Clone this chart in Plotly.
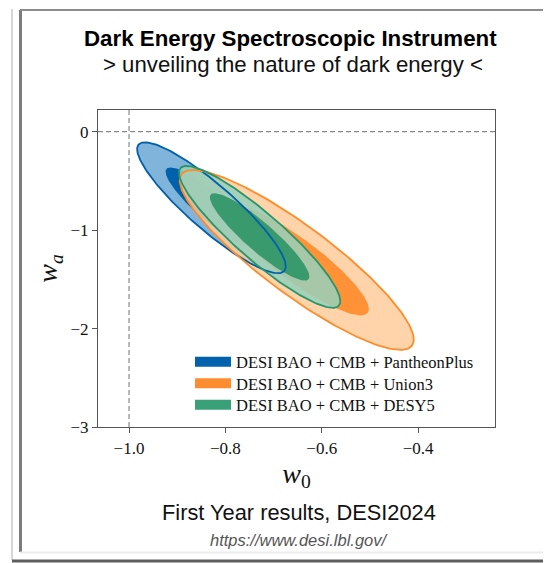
import numpy as np
import plotly.graph_objects as go

# page body adds an 8px margin, so the figure is sized to fill the rest of the window
OFF = 8
W, H = 551 - OFF, 563 - OFF
L, R, T, B = 90, 56, 102, 136

# ---- data ----
datasets = ["DESI BAO + CMB + PantheonPlus", "DESI BAO + CMB + Union3", "DESI BAO + CMB + DESY5"]
w0_mean = [-0.829, -0.652, -0.729]
wa_mean = [-0.773, -1.303, -1.069]
w0_sigma = [0.0630, 0.0992, 0.0684]
wa_sigma = [0.2716, 0.3732, 0.2945]
rho = [-0.895, -0.885, -0.905]
conf_levels = [0.95, 0.68]          # outer, inner contour
x_ticks = [-1.0, -0.8, -0.6, -0.4]
y_ticks = [-3, -2, -1, 0]
lcdm_w0, lcdm_wa = -1.0, 0.0

line_cols = ["rgb(0,96,170)", "rgb(255,140,40)", "rgb(40,150,105)"]
outer_fill = ["rgba(128,180,218,1)", "rgba(255,204,155,0.85)", "rgba(150,208,188,0.85)"]
inner_fill = ["rgba(0,98,170,1)", "rgba(255,140,45,0.92)", "rgba(48,150,105,0.92)"]
legend_cols = ["rgb(0,98,172)", "rgb(255,141,48)", "rgb(57,160,120)"]


def contour(i, level):
    k = np.sqrt(-2.0 * np.log(1.0 - level))
    cov = np.array([[w0_sigma[i] ** 2, rho[i] * w0_sigma[i] * wa_sigma[i]],
                    [rho[i] * w0_sigma[i] * wa_sigma[i], wa_sigma[i] ** 2]])
    Lc = np.linalg.cholesky(cov)
    t = np.linspace(0, 2 * np.pi, 241)
    pts = k * Lc @ np.vstack([np.cos(t), np.sin(t)])
    return w0_mean[i] + pts[0], wa_mean[i] + pts[1]


# helpers: reference-image pixel -> paper coordinates
def px(xp):
    return (xp - OFF - L) / (W - L - R)


def py(yp):
    return (H - B - (yp - OFF)) / (H - T - B)


fig = go.Figure()
# filled contours
for i, name in enumerate(datasets):
    xo, yo = contour(i, conf_levels[0])
    fig.add_trace(go.Scatter(x=xo, y=yo, mode="lines", fill="toself", fillcolor=outer_fill[i],
                             line=dict(width=0, color=line_cols[i]), showlegend=False,
                             hoverinfo="skip"))
    xi, yi = contour(i, conf_levels[1])
    fig.add_trace(go.Scatter(x=xi, y=yi, mode="lines", fill="toself", fillcolor=inner_fill[i],
                             line=dict(width=0), showlegend=False, hoverinfo="skip"))
# outer contour lines on top
for i, name in enumerate(datasets):
    xo, yo = contour(i, conf_levels[0])
    fig.add_trace(go.Scatter(x=xo, y=yo, mode="lines", line=dict(color=line_cols[i], width=1.8),
                             showlegend=False, hoverinfo="skip"))

legend_ids = ["legend", "legend2", "legend3"]
legend_rows = [362, 383.5, 405]
for i, name in enumerate(datasets):
    fig.add_trace(go.Scatter(x=[None], y=[None], mode="lines",
                             line=dict(width=12, color=legend_cols[i]),
                             name=name, legend=legend_ids[i]))

# LCDM reference lines
dash = dict(color="#8a8a8a", width=1.2, dash="5px,3px")
shapes = [
    dict(type="line", xref="x", yref="paper", x0=lcdm_w0, x1=lcdm_w0, y0=0, y1=1, line=dash, layer="below"),
    dict(type="line", xref="paper", yref="y", x0=0, x1=1, y0=lcdm_wa, y1=lcdm_wa, line=dash, layer="below"),
]
# frame decoration
frame = [
    (12, 9, 12, 560, "#d6d6d6", 2),
    (20.5, 10, 20.5, 552, "#7c7c7c", 3),
    (20, 10, 551, 10, "#8c8c8c", 2),
    (20, 552.5, 551, 552.5, "#ececec", 2),
    (12, 561, 551, 561, "#5e5e5e", 3),
]
for x0, y0, x1, y1, c, w in frame:
    shapes.append(dict(type="line", xref="paper", yref="paper", x0=px(x0), x1=px(x1),
                       y0=py(y0), y1=py(y1), line=dict(color=c, width=w), layer="above"))

sans = "Liberation Sans, Arial, Helvetica, sans-serif"
serif = "Liberation Serif, Times New Roman, serif"
annotations = [
    dict(text="<b>Dark Energy Spectroscopic Instrument</b>", x=px(290), y=py(38),
         font=dict(family=sans, size=22.3, color="#000")),
    dict(text="&gt; unveiling the nature of dark energy &lt;", x=px(293), y=py(64),
         font=dict(family=sans, size=22.2, color="#111")),
    dict(text="First Year results, DESI2024", x=px(299), y=py(512),
         font=dict(family=sans, size=21.8, color="#111")),
    dict(text="<i>https://www.desi.lbl.gov/</i>", x=px(298), y=py(540),
         font=dict(family=sans, size=16.5, color="#555")),
]
for a in annotations:
    a.update(xref="paper", yref="paper", showarrow=False, xanchor="center", yanchor="middle")

axis_common = dict(showgrid=False, zeroline=False, showline=True, linecolor="#555", linewidth=1.2,
                   mirror=True, ticks="outside", ticklen=5, tickwidth=1, tickcolor="#555",
                   tickfont=dict(family=serif, size=17, color="#111"))

legend_style = dict(xanchor="left", yanchor="middle", font=dict(family=serif, size=16.5, color="#111"),
                    bgcolor="rgba(0,0,0,0)", itemwidth=36, borderwidth=0)

fig.update_layout(
    width=W, height=H,
    margin=dict(l=L, r=R, t=T, b=B, autoexpand=False),
    paper_bgcolor="white", plot_bgcolor="white",
    xaxis=dict(range=[-1.0644, -0.2405], tickvals=x_ticks, tickformat=".1f",
               title=dict(text="<i>w</i><sub>0</sub>", font=dict(family=serif, size=28, color="#111"),
                          standoff=6), **axis_common),
    yaxis=dict(range=[-3.0, 0.22], tickvals=y_ticks,
               title=dict(text="<i>w<sub>a</sub></i>", font=dict(family=serif, size=28, color="#111"),
                          standoff=4), **axis_common),
    legend=dict(x=px(190), y=py(legend_rows[0]), **legend_style),
    legend2=dict(x=px(190), y=py(legend_rows[1]), **legend_style),
    legend3=dict(x=px(190), y=py(legend_rows[2]), **legend_style),
    shapes=shapes, annotations=annotations,
)

fig.write_html("out.html")
